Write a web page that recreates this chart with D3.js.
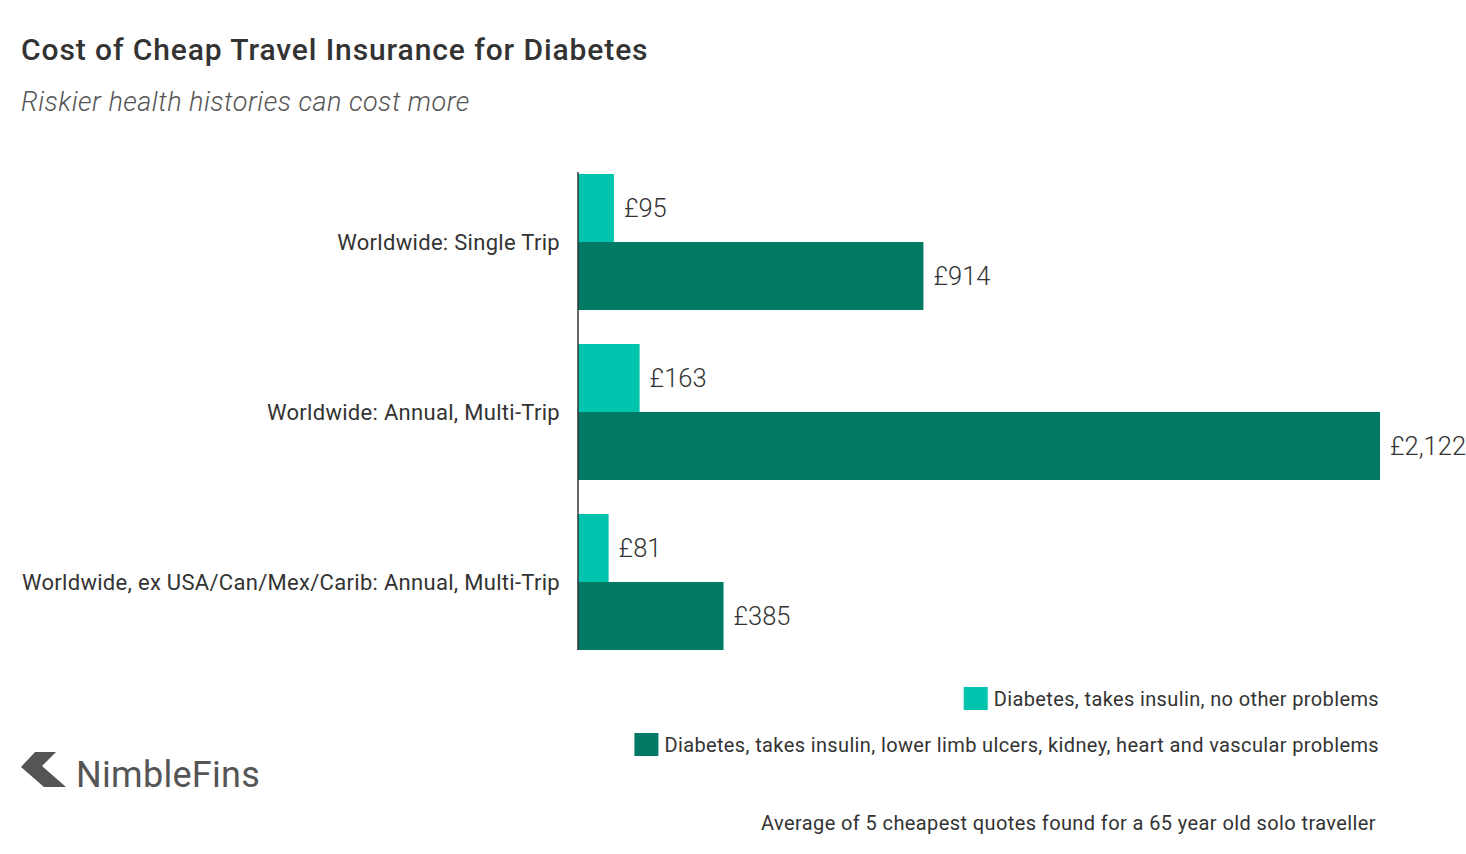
<!DOCTYPE html>
<html>
<head>
<meta charset="utf-8">
<script src="https://cdn.jsdelivr.net/npm/d3@7"></script>
<style>
  body { margin: 0; background: #fff; }
  svg { font-family: Roboto, "Noto Sans", sans-serif; }
</style>
</head>
<body>
<div id="chart"></div>
<script>
const categories = [
  "Worldwide: Single Trip",
  "Worldwide: Annual, Multi-Trip",
  "Worldwide, ex USA/Can/Mex/Carib: Annual, Multi-Trip"
];
const seriesNames = [
  "Diabetes, takes insulin, no other problems",
  "Diabetes, takes insulin, lower limb ulcers, kidney, heart and vascular problems"
];
const noOtherProblems = [95, 163, 81];
const withComplications = [914, 2122, 385];
const colors = ["#00c4ae", "#007a65"];

const width = 1466;
const height = 854;

const svg = d3.select("#chart")
  .append("svg")
  .attr("width", width)
  .attr("height", height);

// titles
svg.append("text")
  .attr("x", 21).attr("y", 60)
  .attr("font-size", 30).attr("font-weight", 500)
  .attr("letter-spacing", 0.9)
  .attr("fill", "#333")
  .text("Cost of Cheap Travel Insurance for Diabetes");

svg.append("text")
  .attr("x", 21).attr("y", 111)
  .attr("font-size", 27).attr("font-weight", 300)
  .attr("font-style", "italic")
  .attr("letter-spacing", 0.5)
  .attr("fill", "#555")
  .text("Riskier health histories can cost more");

const data = categories.map((c, i) => ({
  category: c,
  values: [noOtherProblems[i], withComplications[i]]
}));

const x = d3.scaleLinear()
  .domain([0, d3.max(withComplications)])
  .range([578, 1380]);

const y = d3.scaleBand()
  .domain(categories)
  .range([157, 667])
  .paddingInner(0.2)
  .paddingOuter(0.1);

const ySub = d3.scaleBand()
  .domain([0, 1])
  .range([0, y.bandwidth()]);

const fmt = v => "£" + d3.format(",")(v);

const groups = svg.append("g")
  .selectAll("g")
  .data(data)
  .join("g")
  .attr("transform", d => `translate(0,${y(d.category)})`);

groups.selectAll("rect")
  .data(d => d.values)
  .join("rect")
  .attr("x", x(0))
  .attr("y", (d, i) => ySub(i))
  .attr("width", d => x(d) - x(0))
  .attr("height", ySub.bandwidth())
  .attr("fill", (d, i) => colors[i]);

groups.selectAll("text.value")
  .data(d => d.values)
  .join("text")
  .attr("class", "value")
  .attr("x", d => x(d) + 10)
  .attr("y", (d, i) => ySub(i) + ySub.bandwidth() / 2)
  .attr("dy", "0.36em")
  .attr("font-size", 25.5)
  .attr("font-weight", 300)
  .attr("fill", "#333")
  .text(fmt);

groups.append("text")
  .attr("x", 560)
  .attr("y", y.bandwidth() / 2)
  .attr("dy", "0.35em")
  .attr("text-anchor", "end")
  .attr("font-size", 22)
  .attr("letter-spacing", 0.3)
  .attr("fill", "#333")
  .text(d => d.category);

// axis line
svg.append("line")
  .attr("x1", x(0)).attr("x2", x(0))
  .attr("y1", y(categories[0]) - 2)
  .attr("y2", y(categories[categories.length - 1]) + y.bandwidth())
  .attr("stroke", "#333")
  .attr("stroke-width", 1.5);

// legend, right aligned
const legendRight = 1379;
const legend = svg.append("g");
seriesNames.forEach((name, i) => {
  const ly = 699 + i * 46;
  const t = legend.append("text")
    .attr("x", legendRight)
    .attr("y", ly)
    .attr("dy", "0.35em")
    .attr("text-anchor", "end")
    .attr("font-size", 20)
    .attr("letter-spacing", 0.37)
    .attr("fill", "#333")
    .text(name);
  const w = t.node().getComputedTextLength();
  legend.append("rect")
    .attr("x", legendRight - w - 30)
    .attr("y", ly - 12)
    .attr("width", 24)
    .attr("height", 23)
    .attr("fill", colors[i]);
});

// footnote
svg.append("text")
  .attr("x", 1376).attr("y", 830)
  .attr("text-anchor", "end")
  .attr("font-size", 20)
  .attr("letter-spacing", 0.4)
  .attr("fill", "#333")
  .text("Average of 5 cheapest quotes found for a 65 year old solo traveller");

// logo
svg.append("path")
  .attr("d", "M21,767 L35,752 L56,752 L42,766 L66,787 L44,787 Z")
  .attr("fill", "#555");
svg.append("text")
  .attr("x", 76).attr("y", 787)
  .attr("font-size", 36)
  .attr("letter-spacing", 0.3)
  .attr("fill", "#555")
  .text("NimbleFins");
</script>
</body>
</html>
